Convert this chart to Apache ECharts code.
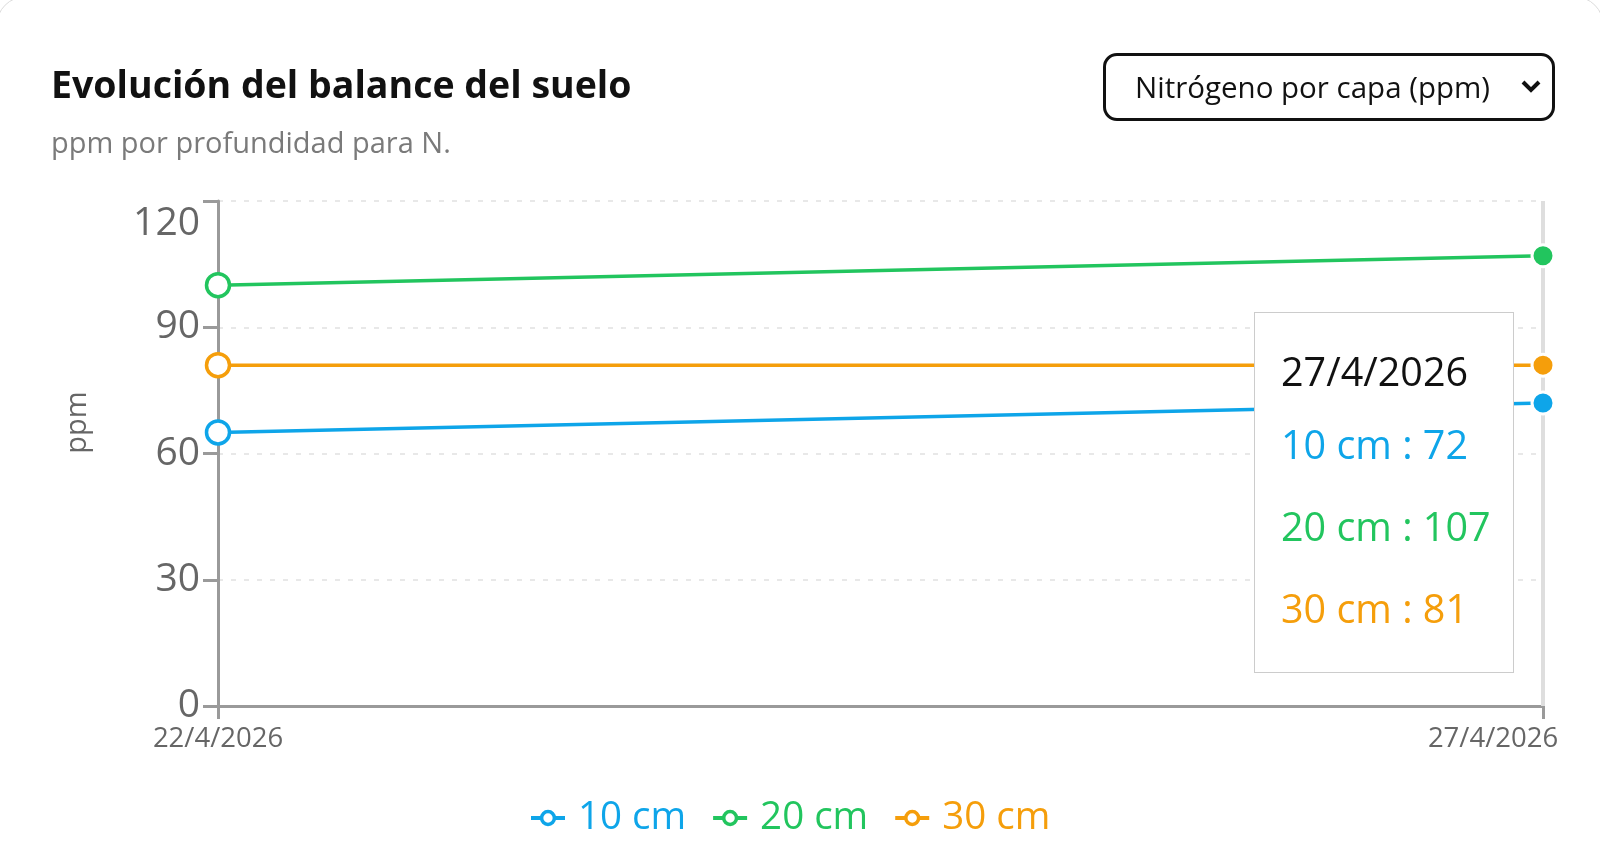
<!DOCTYPE html>
<html><head><meta charset="utf-8">
<script src="https://cdn.jsdelivr.net/npm/echarts@6/dist/echarts.min.js"></script>
<style>
html,body{margin:0;padding:0;background:#fff;width:1600px;height:868px;overflow:hidden;font-family:"Open Sans",sans-serif;}
#card{position:absolute;left:-4px;top:-4px;width:1608px;height:900px;border:1px solid #dcdcdc;border-radius:30px;box-sizing:border-box;}
#chart{position:absolute;left:0;top:0;width:1600px;height:868px;}
#sel{position:absolute;left:1103px;top:53px;width:452px;height:68px;box-sizing:border-box;border:3px solid #111;border-radius:14px;font-size:29.5px;color:#111;line-height:62px;padding-left:29px;font-family:"Open Sans",sans-serif;}
#sel svg{position:absolute;right:9px;top:21px;}
</style></head>
<body>
<div id="card"></div>
<div id="chart"></div>
<div id="sel">Nitrógeno por capa (ppm)<svg width="24" height="18" viewBox="0 0 24 18"><polyline points="4,5 12,13 20,5" fill="none" stroke="#111" stroke-width="4"/></svg></div>
<script>
const categories = ['22/4/2026', '27/4/2026'];
const seriesNames = ['10 cm', '20 cm', '30 cm'];
const values10 = [65, 72];
const values20 = [100, 107];
const values30 = [81, 81];
const seriesValues = [values10, values20, values30];
const colors = ['#0ea5e9', '#22c55e', '#f59e0b'];
const yMin = 0, yMax = 120, yInterval = 30;
const activeIndex = 1;
const FONT = '"Open Sans", sans-serif';

const chart = echarts.init(document.getElementById('chart'));

function mkSeries(name, vals, color) {
  return {
    name: name,
    type: 'line',
    data: vals.map((v, i) => i === activeIndex
      ? { value: v, symbolSize: 20, itemStyle: { color: color, borderColor: '#fff', borderWidth: 3 } }
      : v),
    symbol: 'circle',
    symbolSize: 23,
    showAllSymbol: true,
    itemStyle: { color: '#fff', borderColor: color, borderWidth: 3.5 },
    lineStyle: { color: color, width: 3.5 },
    emphasis: { disabled: true },
    z: 3
  };
}

const option = {
  animation: false,
  textStyle: { fontFamily: FONT },
  title: {
    text: 'Evolución del balance del suelo',
    subtext: 'ppm por profundidad para N.',
    left: 46,
    top: 60,
    itemGap: 18,
    textStyle: { fontSize: 37.5, fontWeight: 'bold', color: '#111', lineHeight: 44, fontFamily: FONT },
    subtextStyle: { fontSize: 29, color: '#7a7a7a', lineHeight: 36, fontFamily: FONT }
  },
  grid: { left: 218, right: 57, top: 201, bottom: 162, containLabel: false },
  legend: {
    left: 524,
    top: 790,
    itemWidth: 34,
    itemHeight: 16,
    itemGap: 25,
    data: seriesNames.map((n, i) => ({ name: n, textStyle: { color: colors[i] } })),
    lineStyle: { width: 4 },
    itemStyle: { borderWidth: 3.5 },
    textStyle: { fontSize: 38.5, lineHeight: 46, fontFamily: FONT, padding: [0, 0, 0, 8] }
  },
  tooltip: {
    trigger: 'axis',
    triggerOn: 'none',
    alwaysShowContent: true,
    transitionDuration: 0,
    position: function () { return [1254, 312]; },
    backgroundColor: '#fff',
    borderColor: '#cccccc',
    borderWidth: 1,
    padding: [26, 8, 20, 26],
    extraCssText: 'box-shadow:none;border-radius:0;width:260px;height:361px;box-sizing:border-box;',
    axisPointer: { type: 'line', lineStyle: { color: '#dedede', width: 4, type: 'solid' }, z: 1 },
    formatter: function (params) {
      let html = '<div style="font-family:' + FONT.replace(/"/g, "'") + ';font-size:39.5px;white-space:nowrap;">';
      html += '<div style="line-height:64px;color:#111;">' + params[0].name + '</div>';
      params.forEach(p => {
        html += '<div style="line-height:82px;color:' + colors[p.seriesIndex] + ';">' + p.seriesName + ' : ' + p.value + '</div>';
      });
      return html + '</div>';
    }
  },
  xAxis: {
    type: 'category',
    boundaryGap: false,
    data: categories,
    axisLine: { lineStyle: { color: '#9a9a9a', width: 3 } },
    axisTick: { show: true, length: 13, lineStyle: { color: '#9a9a9a', width: 3 } },
    axisLabel: {
      fontSize: 27.5, color: '#666', margin: 19, fontFamily: FONT,
      formatter: function (v, i) { return i === categories.length - 1 ? '{last|' + v + '}' : v; },
      rich: { last: { fontSize: 27.5, color: '#666', fontFamily: FONT, padding: [0, 100, 0, 0] } }
    },
    splitLine: { show: true, lineStyle: { color: '#e8e8e8', width: 2, type: [5, 8] } }
  },
  yAxis: {
    type: 'value',
    min: yMin, max: yMax, interval: yInterval,
    name: 'ppm',
    nameLocation: 'middle',
    nameGap: 126,
    nameTextStyle: { fontSize: 29, color: '#666', fontFamily: FONT, padding: [0, 0, 0, 62] },
    axisLine: { show: true, lineStyle: { color: '#9a9a9a', width: 3 } },
    axisTick: { show: true, length: 15, lineStyle: { color: '#9a9a9a', width: 3 } },
    axisLabel: {
      fontSize: 39, color: '#666', margin: 18, fontFamily: FONT,
      formatter: function (v) { return v === yMax ? '{t|' + v + '}' : String(v); },
      rich: { t: { fontSize: 39, color: '#666', fontFamily: FONT, padding: [46, 0, 0, 0] } }
    },
    splitLine: { show: true, lineStyle: { color: '#e8e8e8', width: 2, type: [5, 8] } }
  },
  series: seriesNames.map((n, i) => mkSeries(n, seriesValues[i], colors[i]))
};

chart.setOption(option);
chart.dispatchAction({ type: 'showTip', seriesIndex: 0, dataIndex: activeIndex });
</script>
</body></html>
